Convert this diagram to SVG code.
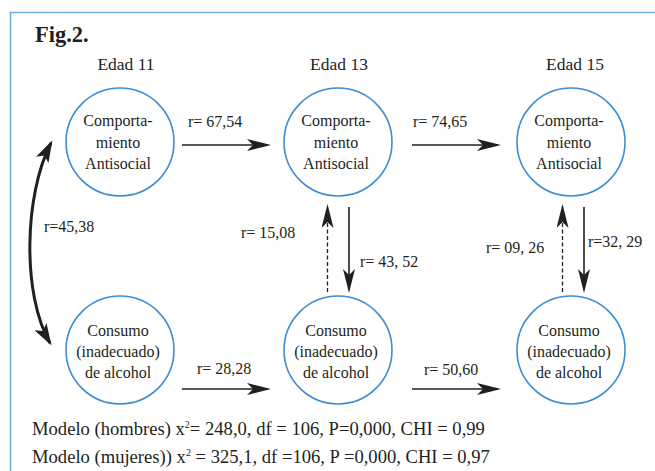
<svg xmlns="http://www.w3.org/2000/svg" width="655" height="471" viewBox="0 0 655 471">
<style>
text{fill:#231f20}
.t{font-size:16px;text-anchor:middle}
.h{font-size:17.5px;text-anchor:middle}
.l{font-size:16px}
.m{font-size:18.6px}
circle{fill:#fff;stroke:#3a8dd6;stroke-width:1.6}
.a{stroke:#231f20;stroke-width:1.6;fill:none;marker-end:url(#ah)}
.d{stroke:#231f20;stroke-width:1.3;fill:none;stroke-dasharray:4 2.5;marker-end:url(#ah)}
</style>
<defs>
<marker id="ah" markerUnits="userSpaceOnUse" viewBox="0 0 24 12" refX="21" refY="6" markerWidth="24" markerHeight="12" orient="auto">
<path d="M0,0 L24,6 L0,12 L6,6 Z" fill="#231f20"/>
</marker>
<marker id="ch" markerUnits="userSpaceOnUse" viewBox="0 0 22 14" refX="19" refY="7" markerWidth="22" markerHeight="14" orient="auto-start-reverse">
<path d="M0,0 L22,7 L0,14 L5,7 Z" fill="#231f20"/>
</marker>
</defs>
<rect width="655" height="471" fill="#fff"/>
<rect x="10.5" y="12.5" width="700" height="500" fill="none" stroke="#6aaee0" stroke-width="1.5"/>
<g font-family="Liberation Serif, Times New Roman, DejaVu Serif, serif">
<text x="35" y="42" style="font-size:22.5px;font-weight:bold">Fig.2.</text>
<text class="h" x="126" y="70">Edad 11</text>
<text class="h" x="339" y="70">Edad 13</text>
<text class="h" x="575" y="70">Edad 15</text>

<g id="connectors">
<path class="a" d="M182,145 L268,145"/>
<path class="a" d="M412,145 L498,145"/>
<path class="a" d="M182,389 L268,389"/>
<path class="a" d="M412,389 L498,389"/>
<path class="d" d="M327.5,292 L327.5,207"/>
<path class="a" d="M349,207 L349,290"/>
<path class="d" d="M562.5,292 L562.5,207"/>
<path class="a" d="M584,207 L584,290"/>
<path d="M51,143 C24,195 22,295 50,343" stroke="#231f20" stroke-width="3" fill="none" marker-start="url(#ch)" marker-end="url(#ch)"/>
<text class="l" x="188" y="127">r= 67,54</text>
<text class="l" x="413" y="127">r= 74,65</text>
<text class="l" x="197" y="374">r= 28,28</text>
<text class="l" x="424" y="375">r= 50,60</text>
<text class="l" x="241" y="238">r= 15,08</text>
<text class="l" x="360" y="267">r= 43, 52</text>
<text class="l" x="486" y="253">r= 09, 26</text>
<text class="l" x="588" y="247">r=32, 29</text>
<text class="l" x="44" y="232">r=45,38</text>
</g>

<g id="n11a"><circle cx="120" cy="142" r="54"/>
<text class="t" x="118" y="126">Comporta-</text><text class="t" x="118" y="148">miento</text><text class="t" x="118" y="169">Antisocial</text></g>
<g id="n13a"><circle cx="338" cy="142" r="54"/>
<text class="t" x="336" y="126">Comporta-</text><text class="t" x="336" y="148">miento</text><text class="t" x="336" y="169">Antisocial</text></g>
<g id="n15a"><circle cx="571" cy="142" r="54"/>
<text class="t" x="569" y="126">Comporta-</text><text class="t" x="569" y="148">miento</text><text class="t" x="569" y="169">Antisocial</text></g>
<g id="n11b"><circle cx="120" cy="350" r="54"/>
<text class="t" x="118" y="336">Consumo</text><text class="t" x="118" y="357">(inadecuado)</text><text class="t" x="118" y="378">de alcohol</text></g>
<g id="n13b"><circle cx="338" cy="350" r="54"/>
<text class="t" x="336" y="336">Consumo</text><text class="t" x="336" y="357">(inadecuado)</text><text class="t" x="336" y="378">de alcohol</text></g>
<g id="n15b"><circle cx="571" cy="350" r="54"/>
<text class="t" x="569" y="336">Consumo</text><text class="t" x="569" y="357">(inadecuado)</text><text class="t" x="569" y="378">de alcohol</text></g>

<text class="m" x="32" y="435">Modelo (hombres) x<tspan font-size="10" dy="-7">2</tspan><tspan dy="7">= 248,0, df = 106, P=0,000, CHI = 0,99</tspan></text>
<text class="m" x="32" y="463">Modelo (mujeres)) x<tspan font-size="10" dy="-7">2</tspan><tspan dy="7"> = 325,1, df =106, P =0,000, CHI = 0,97</tspan></text>
</g>
</svg>
